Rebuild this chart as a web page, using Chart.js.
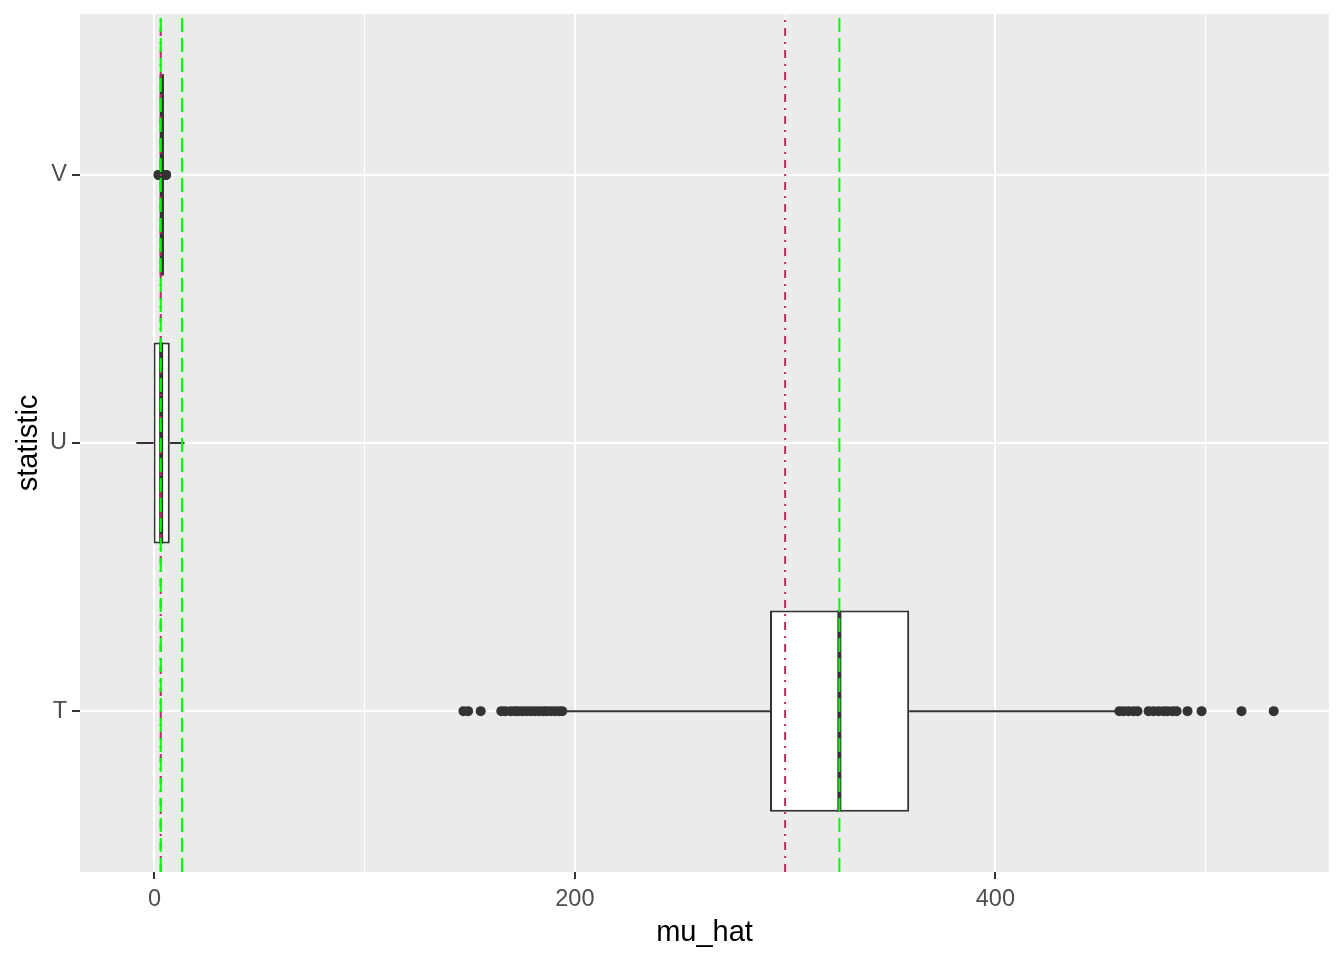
<!DOCTYPE html>
<html>
<head>
<meta charset="utf-8">
<title>mu_hat por statistic</title>
<script src="https://cdn.jsdelivr.net/npm/chart.js@4.4.1/dist/chart.umd.min.js"></script>
<style>
    html, body { margin: 0; padding: 0; background: #ffffff; }
    canvas { display: block; }
</style>
</head>
<body>
<canvas id="boxChart" width="1344" height="960"></canvas>
<script>
// Datos del gráfico (T abajo, V arriba)
const statistics = ['T', 'U', 'V'];
const whiskerLow = [195.5, -8.6, 2.4];
const q1 = [292.8, -0.4, 2.5];
const medians = [325.8, 3.2, 3.5];
const q3 = [359.0, 7.3, 4.5];
const whiskerHigh = [457.6, 14.3, 4.7];

const outliersT = [147, 149.2, 155.2, 165, 167, 169.5, 171.5, 173, 175, 177, 179, 181, 183, 185, 186.5,
    188.5, 190.5, 192.5, 194, 459, 461, 463.3, 465.7, 467.6, 472.9, 475.2, 477.6, 480, 481.9, 484.3,
    486.2, 491.4, 498.1, 517.1, 532.4];
const outliersU = [];
const outliersV = [1.9, 2.1, 2.3, 4.8, 5.1, 5.4, 5.6];

// Líneas verticales de referencia
const trueLines = [3.0, 300];          // dot-dash granate
const meanLines = [3.0, 13.1, 325.8];  // longdash verde

// Ejes
const xMin = -35.4;
const xMax = 558.7;
const xGridValues = [0, 100, 200, 300, 400, 500];
const xTickLabels = [0, 200, 400];
const yMin = -0.6;
const yMax = 2.6;
const boxHalf = 0.375;

// Funciones de utilidad
function segments(pairs) {
    const out = [];
    pairs.forEach(p => {
        out.push(p[0], p[1], { x: null, y: null });
    });
    return out;
}

function outlierPoints() {
    const lists = [outliersT, outliersU, outliersV];
    const pts = [];
    lists.forEach((list, i) => list.forEach(v => pts.push({ x: v, y: i })));
    return pts;
}

const panelBackground = {
    id: 'panelBackground',
    beforeDraw(chart) {
        const { ctx, chartArea } = chart;
        ctx.save();
        ctx.fillStyle = '#EBEBEB';
        ctx.fillRect(chartArea.left, chartArea.top, chartArea.right - chartArea.left, chartArea.bottom - chartArea.top);
        ctx.restore();
    }
};

const ctx = document.getElementById('boxChart').getContext('2d');
new Chart(ctx, {
    type: 'scatter',
    data: {
        datasets: [
            {
                label: 'media',
                showLine: true,
                data: segments(meanLines.map(v => [{ x: v, y: yMin }, { x: v, y: yMax }])),
                borderColor: '#00FF00',
                borderWidth: 2,
                borderDash: [14, 6],
                pointRadius: 0
            },
            {
                label: 'verdadero',
                showLine: true,
                data: segments(trueLines.map(v => [{ x: v, y: yMin }, { x: v, y: yMax }])),
                borderColor: '#B03060',
                borderWidth: 2,
                borderDash: [8, 6, 2, 6],
                pointRadius: 0
            },
            {
                label: 'mediana',
                showLine: true,
                data: segments(medians.map((m, i) => [{ x: m, y: i - boxHalf }, { x: m, y: i + boxHalf }])),
                borderColor: '#333333',
                borderWidth: 4,
                pointRadius: 0
            },
            {
                label: 'caja',
                type: 'bar',
                indexAxis: 'y',
                data: statistics.map((s, i) => ({ x: [q1[i], q3[i]], y: i })),
                backgroundColor: '#FFFFFF',
                borderColor: '#333333',
                borderWidth: 2,
                borderSkipped: false,
                barPercentage: 0.75,
                categoryPercentage: 1
            },
            {
                label: 'bigotes',
                showLine: true,
                data: segments(statistics.flatMap((s, i) => [
                    [{ x: whiskerLow[i], y: i }, { x: q1[i], y: i }],
                    [{ x: q3[i], y: i }, { x: whiskerHigh[i], y: i }]
                ])),
                borderColor: '#333333',
                borderWidth: 2,
                pointRadius: 0
            },
            {
                label: 'atípicos',
                data: outlierPoints(),
                backgroundColor: '#333333',
                borderWidth: 0,
                pointRadius: 5
            }
        ]
    },
    options: {
        responsive: false,
        animation: false,
        devicePixelRatio: 1,
        layout: { padding: { left: 0, top: 14, right: 15, bottom: 0 } },
        plugins: {
            legend: { display: false },
            tooltip: { enabled: false }
        },
        scales: {
            x: {
                type: 'linear',
                position: 'bottom',
                min: xMin,
                max: xMax,
                offset: false,
                afterBuildTicks: (scale) => {
                    scale.ticks = xGridValues.map(v => ({ value: v }));
                },
                afterFit: (scale) => {
                    scale.height = 88;
                    scale.paddingLeft = 0;
                    scale.paddingRight = 0;
                },
                border: { display: false },
                grid: {
                    offset: false,
                    color: '#FFFFFF',
                    lineWidth: (c) => (xTickLabels.includes(c.tick.value) ? 2 : 1),
                    tickColor: (c) => (xTickLabels.includes(c.tick.value) ? '#333333' : 'rgba(0,0,0,0)'),
                    tickWidth: 2,
                    tickLength: 7
                },
                ticks: {
                    autoSkip: false,
                    maxRotation: 0,
                    padding: 9,
                    color: '#4D4D4D',
                    font: { family: 'Liberation Sans', size: 23.5, lineHeight: 1 },
                    callback: (v) => (xTickLabels.includes(v) ? String(v) : '')
                },
                title: {
                    display: true,
                    text: 'mu_hat',
                    color: '#000000',
                    font: { family: 'Liberation Sans', size: 29 },
                    padding: { top: 0, bottom: 10 }
                }
            },
            y: {
                type: 'linear',
                position: 'left',
                min: yMin,
                max: yMax,
                offset: false,
                afterBuildTicks: (scale) => {
                    scale.ticks = statistics.map((s, i) => ({ value: i }));
                },
                afterFit: (scale) => {
                    scale.width = 80;
                    scale.paddingTop = 0;
                    scale.paddingBottom = 0;
                },
                border: { display: false },
                grid: {
                    offset: false,
                    color: '#FFFFFF',
                    lineWidth: 2,
                    tickColor: '#333333',
                    tickWidth: 2,
                    tickLength: 8
                },
                ticks: {
                    autoSkip: false,
                    padding: 5,
                    color: '#4D4D4D',
                    font: { family: 'Liberation Sans', size: 23.5, lineHeight: 1 },
                    callback: (v) => statistics[v] ?? ''
                },
                title: {
                    display: true,
                    text: 'statistic',
                    color: '#000000',
                    font: { family: 'Liberation Sans', size: 29 },
                    padding: { top: 12, bottom: 0 }
                }
            }
        }
    },
    plugins: [panelBackground]
});
</script>
</body>
</html>
